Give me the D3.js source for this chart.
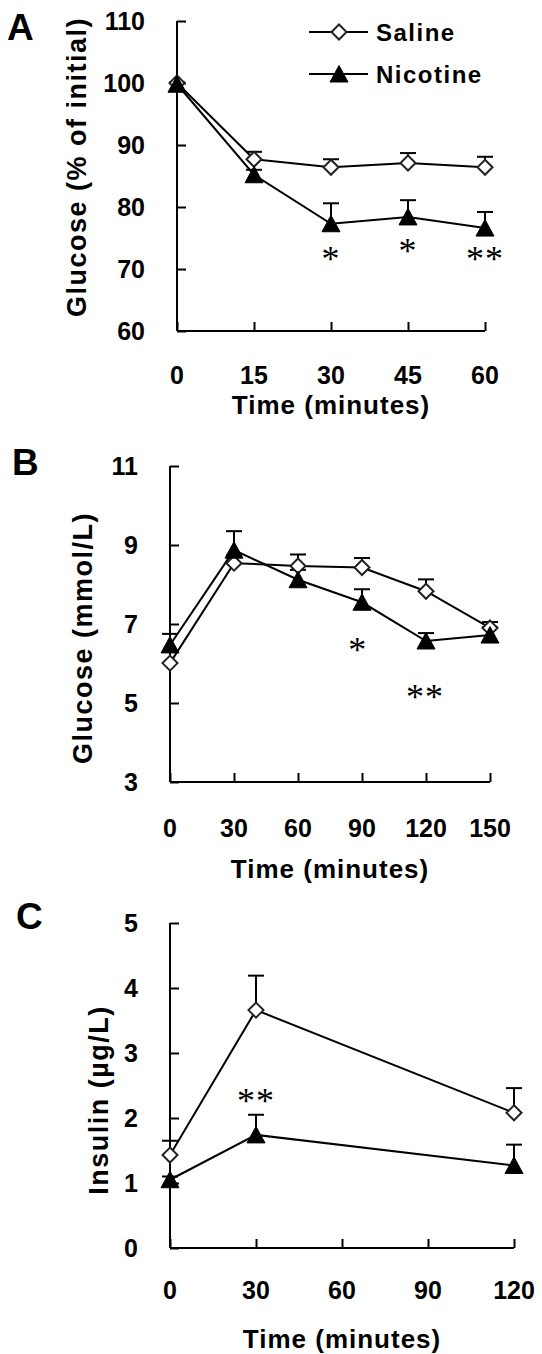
<!DOCTYPE html>
<html><head><meta charset="utf-8">
<script src="https://cdn.jsdelivr.net/npm/d3@7"></script>
<style>
html,body{margin:0;padding:0;background:#fff;}
svg{display:block;font-family:"Liberation Sans",Arial,sans-serif;}
</style></head>
<body>
<svg id="chart" width="542" height="1354"></svg>
<script>
// ---------- Data ----------
const seriesNames = ["Saline", "Nicotine"];

// Panel A: Glucose (% of initial)
const timesA = [0, 15, 30, 45, 60];
const salineA = [100, 87.7, 86.4, 87.1, 86.4];
const salineAErr = [0, 1.2, 1.3, 1.6, 1.7];
const nicotineA = [99.8, 85.2, 77.3, 78.4, 76.6];
const nicotineAErr = [0.3, 0.8, 3.3, 2.7, 2.6];
const yTicksA = [60, 70, 80, 90, 100, 110];
const xTicksA = [0, 15, 30, 45, 60];
const starsA = [{t: 30, v: 72.3, s: "*"}, {t: 45, v: 73.5, s: "*"}, {t: 60, v: 72.3, s: "**"}];

// Panel B: Glucose (mmol/L)
const timesB = [0, 30, 60, 90, 120, 150];
const salineB = [6.01, 8.54, 8.47, 8.43, 7.83, 6.9];
const salineBErr = [0.3, 0.2, 0.29, 0.24, 0.3, 0.15];
const nicotineB = [6.47, 8.87, 8.12, 7.55, 6.57, 6.72];
const nicotineBErr = [0.28, 0.48, 0.25, 0.33, 0.2, 0.2];
const yTicksB = [3, 5, 7, 9, 11];
const xTicksB = [0, 30, 60, 90, 120, 150];
const starsB = [{t: 88, v: 6.44, s: "*"}, {t: 119.5, v: 5.25, s: "**"}];

// Panel C: Insulin (µg/L)
const timesC = [0, 30, 120];
const salineC = [1.43, 3.66, 2.08];
const salineCErr = [0.22, 0.53, 0.38];
const nicotineC = [1.05, 1.74, 1.27];
const nicotineCErr = [0.05, 0.31, 0.32];
const yTicksC = [0, 1, 2, 3, 4, 5];
const xTicksC = [0, 30, 60, 90, 120];
const starsC = [{t: 30, v: 2.32, s: "**"}];

// ---------- Drawing ----------
const svg = d3.select("#chart");

function diamondPath(r) { return `M0,${-r}L${r},0L0,${r}L${-r},0Z`; }
function trianglePath() { return "M0,-8.5L9,8L-9,8Z"; }

function drawPanel(p) {
  const g = svg.append("g");
  const x = d3.scaleLinear().domain(p.xDomain).range(p.xRange);
  const y = d3.scaleLinear().domain(p.yDomain).range(p.yRange);
  const x0 = p.xRange[0], y0 = p.yRange[0];

  // panel letter
  g.append("text").attr("x", p.letterPos[0]).attr("y", p.letterPos[1])
    .attr("font-size", 37).attr("font-weight", "bold").text(p.letter);

  // axes (ticks pointing inward)
  const gy = g.append("g").attr("transform", `translate(${x0},0)`)
    .call(d3.axisRight(y).tickValues(p.yTicks).tickSize(9).tickFormat(""));
  const gx = g.append("g").attr("transform", `translate(0,${y0})`)
    .call(d3.axisTop(x).tickValues(p.xTicks).tickSize(9).tickFormat(""));
  [gy, gx].forEach(a => {
    a.select("path.domain").remove();
    a.selectAll(".tick line").attr("stroke", "#000").attr("stroke-width", 2);
  });
  g.append("line").attr("x1", x0).attr("x2", x0).attr("y1", y(p.yDomain[1])).attr("y2", y0)
    .attr("stroke", "#000").attr("stroke-width", 2);
  g.append("line").attr("x1", x0).attr("x2", x(p.xDomain[1])).attr("y1", y0).attr("y2", y0)
    .attr("stroke", "#000").attr("stroke-width", 2);

  // tick labels
  g.selectAll(".ylab").data(p.yTicks).join("text")
    .attr("x", x0 - 32).attr("y", d => y(d) + 9).attr("text-anchor", "end")
    .attr("font-size", 25).attr("font-weight", "bold").text(d => d);
  g.selectAll(".xlab").data(p.xTicks).join("text")
    .attr("x", d => x(d)).attr("y", y0 + p.xLabOff).attr("text-anchor", "middle")
    .attr("font-size", 25).attr("font-weight", "bold").text(d => d);

  // axis titles
  g.append("text").attr("x", (p.xRange[0] + p.xRange[1]) / 2).attr("y", p.xTitleY)
    .attr("text-anchor", "middle").attr("font-size", 26).attr("font-weight", "bold")
    .attr("letter-spacing", 1).text("Time (minutes)");
  g.append("text").attr("transform", `translate(${p.yTitlePos[0]},${p.yTitlePos[1]}) rotate(-90)`)
    .attr("text-anchor", "middle").attr("font-size", 27).attr("font-weight", "bold")
    .attr("letter-spacing", 1.5).text(p.yTitle);

  const line = d3.line().x(d => x(d.t)).y(d => y(d.v));
  const series = [
    {vals: p.saline, err: p.salineErr, kind: "d"},
    {vals: p.nicotine, err: p.nicotineErr, kind: "t"}
  ].map(s => ({kind: s.kind, pts: p.times.map((t, i) => ({t, v: s.vals[i], e: s.err[i]}))}));

  series.forEach(s => {
    g.append("path").attr("d", line(s.pts)).attr("fill", "none")
      .attr("stroke", "#000").attr("stroke-width", 2);
  });
  series.forEach(s => {
    const eb = g.append("g");
    s.pts.forEach(d => {
      if (!d.e) return;
      eb.append("line").attr("x1", x(d.t)).attr("x2", x(d.t)).attr("y1", y(d.v)).attr("y2", y(d.v + d.e))
        .attr("stroke", "#000").attr("stroke-width", 2);
      eb.append("line").attr("x1", x(d.t) - 8).attr("x2", x(d.t) + 8).attr("y1", y(d.v + d.e)).attr("y2", y(d.v + d.e))
        .attr("stroke", "#000").attr("stroke-width", 2);
    });
  });
  series.forEach(s => {
    g.selectAll(null).data(s.pts).join("path")
      .attr("transform", d => `translate(${x(d.t)},${y(d.v)})`)
      .attr("d", s.kind === "d" ? diamondPath(7.5) : trianglePath())
      .attr("fill", s.kind === "d" ? "#fff" : "#000")
      .attr("stroke", s.kind === "d" ? "#222" : "#000")
      .attr("stroke-width", s.kind === "d" ? 2 : 1);
  });

  // significance stars
  g.selectAll(".star").data(p.stars).join("text")
    .attr("x", d => x(d.t)).attr("y", d => y(d.v) + 16).attr("text-anchor", "middle")
    .attr("font-family", "'Liberation Serif', serif").attr("font-size", 36)
    .attr("letter-spacing", 1)
    .text(d => d.s);

  return {g, x, y};
}

drawPanel({
  letter: "A", letterPos: [7, 40],
  xDomain: [0, 60], xRange: [177, 485], yDomain: [60, 110], yRange: [331, 21],
  xTicks: xTicksA, yTicks: yTicksA, xLabOff: 53, xTitleY: 414,
  yTitle: "Glucose (% of initial)", yTitlePos: [86, 167],
  times: timesA, saline: salineA, salineErr: salineAErr, nicotine: nicotineA, nicotineErr: nicotineAErr,
  stars: starsA
});
drawPanel({
  letter: "B", letterPos: [12, 475],
  xDomain: [0, 150], xRange: [170, 490], yDomain: [3, 11], yRange: [782, 466],
  xTicks: xTicksB, yTicks: yTicksB, xLabOff: 55, xTitleY: 878,
  yTitle: "Glucose (mmol/L)", yTitlePos: [92, 638],
  times: timesB, saline: salineB, salineErr: salineBErr, nicotine: nicotineB, nicotineErr: nicotineBErr,
  stars: starsB
});
drawPanel({
  letter: "C", letterPos: [16, 929],
  xDomain: [0, 120], xRange: [170, 514], yDomain: [0, 5], yRange: [1248, 923],
  xTicks: xTicksC, yTicks: yTicksC, xLabOff: 51, xTitleY: 1348,
  yTitle: "Insulin (µg/L)", yTitlePos: [108, 1100],
  times: timesC, saline: salineC, salineErr: salineCErr, nicotine: nicotineC, nicotineErr: nicotineCErr,
  stars: starsC
});

// legend (panel A)
const legend = svg.append("g");
const legY = [32, 74];
legend.selectAll("line").data(seriesNames).join("line")
  .attr("x1", 309).attr("x2", 368).attr("y1", (d, i) => legY[i]).attr("y2", (d, i) => legY[i])
  .attr("stroke", "#000").attr("stroke-width", 2);
legend.selectAll("path").data(seriesNames).join("path")
  .attr("transform", (d, i) => `translate(339,${legY[i]})`)
  .attr("d", (d, i) => i === 0 ? diamondPath(7.5) : trianglePath())
  .attr("fill", (d, i) => i === 0 ? "#fff" : "#000")
  .attr("stroke", (d, i) => i === 0 ? "#222" : "#000")
  .attr("stroke-width", (d, i) => i === 0 ? 2 : 1);
legend.selectAll("text").data(seriesNames).join("text")
  .attr("x", 376).attr("y", (d, i) => legY[i] + 9)
  .attr("font-size", 24).attr("font-weight", "bold").attr("letter-spacing", 1.5)
  .text(d => d);
</script>
</body></html>
